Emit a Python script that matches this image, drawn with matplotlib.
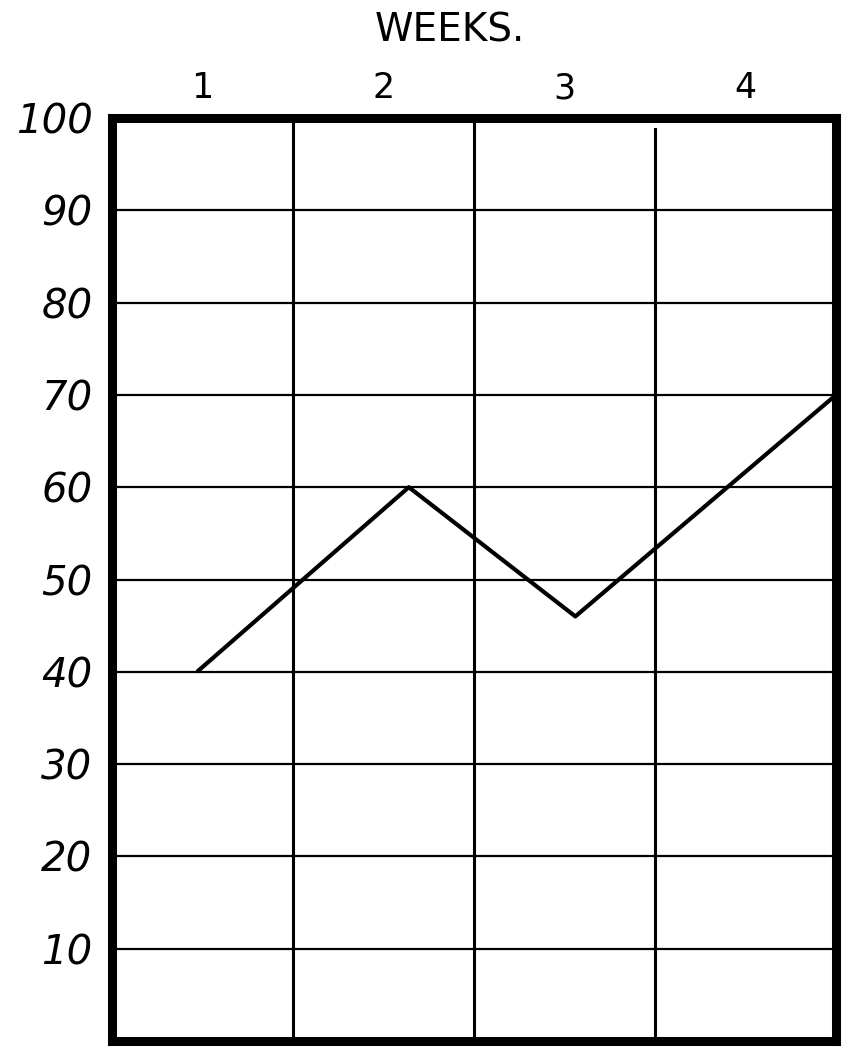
import matplotlib
matplotlib.use("Agg")
import matplotlib.pyplot as plt

# data
weeks = [1, 2, 3, 4]
week_labels = ["1", "2", "3", "4"]
line_x = [0.97, 2.14, 3.06, 4.5]   # positions along the week axis
line_y = [40, 60, 46, 70]
y_ticks = [10, 20, 30, 40, 50, 60, 70, 80, 90, 100]
col_edges = [1.5, 2.5, 3.5]

fig = plt.figure(figsize=(8.61, 10.59), dpi=100)
ax = fig.add_axes([112/861, 1 - 1041/1059, 724/861, 923/1059])

ax.set_xlim(0.5, 4.5)
ax.set_ylim(0, 100)

# horizontal rules
for v in y_ticks[:-1]:
    ax.axhline(v, color="black", linewidth=1.6, zorder=1)

# column rules (the last one stops short of the top edge)
tops = [1.0, 1.0, 0.988]
for xe, top in zip(col_edges, tops):
    ax.axvline(xe, ymax=top, color="black", linewidth=2.2, zorder=1)

ax.plot(line_x, line_y, color="black", linewidth=3, solid_capstyle="butt", zorder=2)

for s in ax.spines.values():
    s.set_linewidth(6.5)
    s.set_color("black")

ax.set_yticks(y_ticks)
ax.set_yticklabels([str(v) for v in y_ticks], fontsize=29, fontstyle="italic")
ax.tick_params(axis="y", length=0, pad=14)

ax.xaxis.tick_top()
ax.set_xticks(weeks)
ax.set_xticklabels(week_labels, fontsize=25)
ax.tick_params(axis="x", length=0, pad=9)

fig.text(450/861, 1 - 30/1059, "WEEKS.", ha="center", va="center", fontsize=28)

fig.savefig("out.png", dpi=100, facecolor="white")
